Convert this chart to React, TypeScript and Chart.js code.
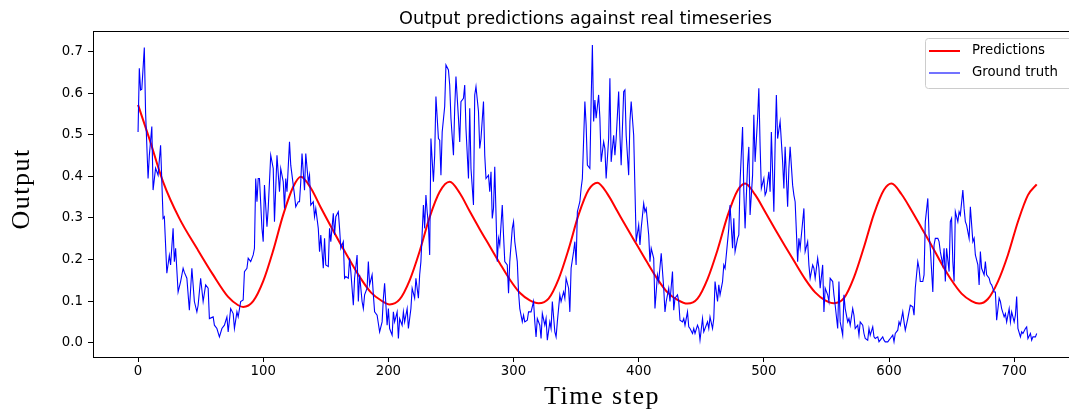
import React, { useEffect, useRef } from "react";
import { Chart, registerables } from "chart.js";

Chart.register(...registerables);

const chartTitle = "Output predictions against real timeseries";
const xAxisTitle = "Time step";
const yAxisTitle = "Output";
const seriesNames = ["Predictions", "Ground truth"];
const seriesColors = ["#ff0000", "#0000ff"];

const xTicks = [0, 100, 200, 300, 400, 500, 600, 700];
const yTicks = [0, 0.1, 0.2, 0.3, 0.4, 0.5, 0.6, 0.7];

const gtStep = [
  0, 1, 2, 3, 5, 6, 8, 9, 11, 12, 14, 16, 18, 20, 21, 23, 25, 26, 28, 29, 30, 32, 34, 36, 37, 39, 41, 43, 45, 47, 48, 50, 52, 54, 56, 57, 60, 61, 63, 65, 67, 69, 71, 72, 74, 76, 77, 79, 80, 82, 84, 85, 87, 88, 90, 92, 93, 94, 95, 96,
  97, 99, 100, 101, 103, 104, 106, 108, 109, 111, 113, 114, 116, 117, 118, 119, 121, 122, 124, 125, 126, 128, 129, 130, 131, 133, 134, 136, 137, 138, 140, 141, 142, 144, 145, 146, 148, 149, 150, 152, 153, 154, 156, 157, 158, 160, 161, 162, 164, 165, 166, 168, 169, 170, 172, 173, 175, 176, 177, 179, 180, 181, 183, 184, 185, 187, 188, 189, 191, 192, 193, 195, 196, 197, 199, 200,
  201, 203, 204, 205, 207, 208, 209, 211, 212, 213, 215, 216, 218, 219, 221, 222, 224, 225, 226, 228, 229, 230, 231, 232, 233, 234, 236, 237, 238, 240, 241, 242, 243, 245, 246, 248, 249, 250, 252, 253, 254, 256, 257, 258, 260, 261, 262, 264, 265, 266, 268, 269, 270, 272, 273, 274, 276, 277, 278, 280, 281, 282, 283, 284, 285, 287, 288, 289, 291, 292, 293, 295, 296, 297, 299, 300, 301, 303, 304,
  305, 307, 308, 309, 311, 312, 314, 316, 317, 318, 319, 321, 322, 323, 325, 326, 327, 329, 330, 331, 333, 334, 335, 337, 338, 340, 341, 342, 344, 345, 346, 348, 349, 350, 351, 353, 354, 355, 357, 358, 359, 361, 362, 363, 364, 365, 366, 368, 369, 370, 372, 373, 374, 376, 377, 378, 380, 381, 382, 384, 385, 386, 388, 389, 390, 392, 393, 394, 396, 397, 398, 400, 401, 402, 404, 405, 406, 408, 409,
  410, 412, 413, 415, 416, 418, 420, 421, 422, 424, 425, 427, 428, 429, 431, 432, 433, 435, 436, 437, 439, 440, 441, 443, 444, 445, 447, 448, 449, 451, 452, 453, 455, 456, 457, 459, 460, 461, 463, 464, 465, 467, 468, 469, 471, 472, 473, 475, 476, 477, 479, 480, 481, 483, 484, 485, 487, 488, 489, 491, 492, 493, 495, 496, 497, 498, 500, 501, 502, 504, 505, 506, 508, 509, 510, 511, 513,
  515, 516, 517, 519, 520, 521, 523, 524, 525, 527, 528, 529, 531, 532, 533, 535, 536, 537, 539, 540, 541, 543, 544, 545, 547, 548, 549, 551, 552, 553, 555, 556, 557, 559, 560, 561, 563, 564, 565, 567, 568, 569, 571, 572, 573, 575, 576, 577, 579, 580, 581, 583, 584, 585, 587, 588, 589, 591, 592, 593, 595, 596, 597, 599, 600, 601, 603, 604, 605, 607, 608, 609, 611, 612, 613, 615, 616, 617,
  619, 620, 621, 623, 624, 625, 627, 628, 629, 631, 632, 633, 635, 636, 637, 639, 640, 641, 643, 644, 645, 646, 648, 649, 650, 651, 652, 653, 655, 656, 657, 659, 660, 661, 662, 664, 665, 667, 668, 669, 671, 672, 673, 674, 676, 677, 678, 680, 681, 682, 684, 685, 686, 688, 689, 690, 692, 693, 694, 696, 697, 698, 700, 701, 702, 703, 705, 706, 707, 709, 710, 711, 713, 714, 715, 717, 718,
];

const gtValue = [
  0.507, 0.66, 0.608, 0.61, 0.71, 0.555, 0.395, 0.45, 0.52, 0.367, 0.42, 0.403, 0.475, 0.299, 0.303, 0.167, 0.21, 0.187, 0.275, 0.195, 0.227, 0.122, 0.147, 0.179, 0.169, 0.155, 0.078, 0.179, 0.099, 0.074, 0.09, 0.155, 0.099, 0.139, 0.131, 0.058, 0.062, 0.042, 0.034, 0.014, 0.034, 0.042, 0.062, 0.026, 0.082, 0.07, 0.034, 0.074, 0.062, 0.099, 0.103, 0.171, 0.179, 0.203, 0.195, 0.211, 0.227, 0.395, 0.339, 0.395,
  0.395, 0.275, 0.243, 0.379, 0.279, 0.323, 0.451, 0.419, 0.291, 0.451, 0.363, 0.419, 0.387, 0.323, 0.395, 0.363, 0.483, 0.427, 0.379, 0.355, 0.327, 0.339, 0.339, 0.387, 0.455, 0.367, 0.455, 0.387, 0.403, 0.331, 0.339, 0.303, 0.323, 0.275, 0.219, 0.259, 0.179, 0.251, 0.187, 0.183, 0.275, 0.243, 0.311, 0.259, 0.303, 0.315, 0.275, 0.227, 0.243, 0.155, 0.159, 0.155, 0.203, 0.171, 0.09, 0.155, 0.211, 0.099, 0.163, 0.099, 0.082, 0.115, 0.131, 0.195, 0.139, 0.163, 0.115, 0.074, 0.066, 0.046, 0.026, 0.05, 0.107, 0.143, 0.042, 0.082,
  0.034, 0.018, 0.074, 0.05, 0.074, 0.01, 0.058, 0.042, 0.074, 0.05, 0.082, 0.034, 0.082, 0.131, 0.107, 0.155, 0.107, 0.163, 0.195, 0.331, 0.275, 0.355, 0.315, 0.283, 0.211, 0.491, 0.387, 0.451, 0.592, 0.491, 0.487, 0.403, 0.507, 0.568, 0.668, 0.656, 0.62, 0.54, 0.451, 0.564, 0.64, 0.54, 0.483, 0.58, 0.588, 0.62, 0.515, 0.395, 0.564, 0.419, 0.331, 0.596, 0.616, 0.556, 0.467, 0.491, 0.58, 0.451, 0.395, 0.403, 0.363, 0.411, 0.299, 0.323, 0.423, 0.195, 0.251, 0.235, 0.331, 0.259, 0.195, 0.187, 0.119, 0.195, 0.275, 0.291, 0.243, 0.195, 0.122,
  0.082, 0.05, 0.066, 0.05, 0.054, 0.074, 0.074, 0.099, 0.05, 0.014, 0.058, 0.042, 0.01, 0.07, 0.042, 0.058, 0.006, 0.05, 0.034, 0.099, 0.026, 0.014, 0.05, 0.115, 0.099, 0.122, 0.107, 0.155, 0.131, 0.074, 0.179, 0.219, 0.243, 0.187, 0.315, 0.339, 0.371, 0.395, 0.58, 0.524, 0.427, 0.419, 0.58, 0.716, 0.532, 0.584, 0.54, 0.596, 0.54, 0.435, 0.483, 0.467, 0.395, 0.491, 0.636, 0.435, 0.499, 0.451, 0.491, 0.604, 0.499, 0.427, 0.604, 0.608, 0.499, 0.403, 0.532, 0.58, 0.499, 0.371, 0.243, 0.283, 0.235, 0.275, 0.335, 0.315, 0.323, 0.259, 0.195,
  0.227, 0.203, 0.082, 0.163, 0.147, 0.215, 0.131, 0.074, 0.099, 0.131, 0.099, 0.171, 0.078, 0.107, 0.115, 0.099, 0.054, 0.05, 0.058, 0.042, 0.074, 0.038, 0.034, 0.022, 0.034, 0.022, 0.042, 0.034, 0.006, 0.058, 0.026, 0.034, 0.05, 0.034, 0.062, 0.034, 0.058, 0.147, 0.099, 0.139, 0.115, 0.147, 0.187, 0.179, 0.243, 0.275, 0.331, 0.227, 0.299, 0.219, 0.251, 0.259, 0.387, 0.519, 0.363, 0.275, 0.427, 0.471, 0.307, 0.403, 0.548, 0.435, 0.54, 0.612, 0.475, 0.371, 0.395, 0.355, 0.363, 0.411, 0.363, 0.507, 0.315, 0.475, 0.596, 0.491, 0.532,
  0.435, 0.371, 0.471, 0.327, 0.419, 0.471, 0.379, 0.355, 0.339, 0.195, 0.251, 0.227, 0.291, 0.323, 0.219, 0.243, 0.187, 0.155, 0.187, 0.179, 0.155, 0.203, 0.179, 0.131, 0.187, 0.074, 0.131, 0.115, 0.099, 0.155, 0.147, 0.115, 0.09, 0.034, 0.147, 0.05, 0.018, 0.115, 0.082, 0.05, 0.058, 0.042, 0.082, 0.066, 0.034, 0.042, 0.018, 0.05, 0.042, 0.022, 0.01, 0.006, 0.034, 0.018, 0.038, 0.014, 0.01, 0.014, 0.002, 0.006, 0.014, 0.006, 0.002, 0.002, 0.006, 0.01, 0.018, 0.002, 0.022, 0.03, 0.05, 0.042, 0.074, 0.05, 0.03, 0.058, 0.074, 0.09,
  0.086, 0.066, 0.131, 0.195, 0.179, 0.147, 0.147, 0.163, 0.291, 0.347, 0.259, 0.227, 0.122, 0.235, 0.251, 0.251, 0.243, 0.219, 0.187, 0.227, 0.147, 0.227, 0.171, 0.291, 0.299, 0.195, 0.147, 0.315, 0.291, 0.315, 0.307, 0.367, 0.323, 0.291, 0.283, 0.251, 0.327, 0.243, 0.251, 0.211, 0.187, 0.139, 0.219, 0.179, 0.163, 0.195, 0.163, 0.155, 0.143, 0.139, 0.122, 0.122, 0.054, 0.107, 0.099, 0.082, 0.062, 0.07, 0.05, 0.082, 0.05, 0.074, 0.05, 0.066, 0.111, 0.034, 0.014, 0.026, 0.022, 0.034, 0.038, 0.01, 0.022, 0.006, 0.014, 0.014, 0.022,
];

const predStep = [
  0, 9, 20, 33, 47, 60, 72, 80, 84, 92, 100, 108, 116, 124, 130,
  138, 146, 154, 162, 170, 178, 186, 194, 201,
  209, 217, 225, 233, 241, 249, 257, 265, 273, 281, 289, 297, 305, 313, 320,
  328, 336, 344, 352, 360, 367, 375, 383, 391, 399, 407, 415, 423, 431, 439,
  447, 455, 463, 471, 479, 485, 493, 501, 509, 517, 525, 533, 541, 549, 556,
  564, 572, 580, 588, 596, 602, 610, 618, 626, 634, 642, 650, 658, 666, 672,
  679, 687, 695, 703, 711, 718,
];

const predValue = [
  0.572, 0.491, 0.387, 0.299, 0.227, 0.163, 0.11, 0.09, 0.086, 0.1, 0.148, 0.222, 0.308, 0.375, 0.399,
  0.372, 0.325, 0.28, 0.236, 0.194, 0.154, 0.121, 0.102, 0.092,
  0.104, 0.15, 0.22, 0.302, 0.363, 0.387, 0.36, 0.316, 0.273, 0.232, 0.191, 0.152, 0.12, 0.102, 0.095,
  0.106, 0.153, 0.225, 0.308, 0.368, 0.385, 0.358, 0.316, 0.274, 0.233, 0.192, 0.153, 0.121, 0.103, 0.094,
  0.106, 0.153, 0.223, 0.305, 0.366, 0.383, 0.356, 0.315, 0.273, 0.232, 0.192, 0.153, 0.121, 0.102, 0.095,
  0.107, 0.157, 0.23, 0.31, 0.368, 0.383, 0.357, 0.318, 0.276, 0.234, 0.19, 0.15, 0.118, 0.1, 0.094,
  0.105, 0.147, 0.211, 0.291, 0.355, 0.381,
];

const TICK_FONT = { family: "'DejaVu Sans'", size: 13.3 };
const LABEL_FONT = "26px 'Liberation Serif'";

const frameAndLegend = {
  id: "frameAndLegend",
  afterDatasetsDraw(chart: any) {
    const { ctx, chartArea } = chart;
    ctx.save();
    // axes frame
    ctx.strokeStyle = "#000";
    ctx.lineWidth = 1;
    ctx.strokeRect(
      Math.round(chartArea.left) + 0.5,
      Math.round(chartArea.top) + 0.5,
      Math.round(chartArea.right - chartArea.left),
      Math.round(chartArea.bottom - chartArea.top)
    );
    // title, centred over the axes
    const cx = (chartArea.left + chartArea.right) / 2;
    ctx.fillStyle = "#000";
    ctx.font = "17.7px 'DejaVu Sans'";
    ctx.textAlign = "center";
    ctx.textBaseline = "alphabetic";
    ctx.fillText(chartTitle, cx - 2.5, 23.5);
    // axis labels (serif, LaTeX-like)
    ctx.font = LABEL_FONT;
    (ctx as any).letterSpacing = "1.5px";
    ctx.fillText(xAxisTitle, cx + 14, 404);
    ctx.save();
    ctx.translate(29, (chartArea.top + chartArea.bottom) / 2 - 5);
    ctx.rotate(-Math.PI / 2);
    ctx.fillText(yAxisTitle, 0, 0);
    ctx.restore();
    (ctx as any).letterSpacing = "0px";
    // legend (upper right, inside axes)
    const bx = chartArea.right - 158;
    const by = chartArea.top + 7;
    const bw = 151;
    const bh = 50;
    ctx.beginPath();
    ctx.roundRect(bx + 0.5, by + 0.5, bw, bh, 3);
    ctx.fillStyle = "rgba(255,255,255,0.8)";
    ctx.fill();
    ctx.strokeStyle = "#cccccc";
    ctx.lineWidth = 1;
    ctx.stroke();
    const ds = chart.data.datasets;
    const rows = [by + 13, by + 35];
    ds.forEach((d: any, i: number) => {
      const y = rows[i];
      ctx.beginPath();
      ctx.strokeStyle = d.borderColor;
      ctx.lineWidth = d.borderWidth;
      ctx.moveTo(bx + 4, y);
      ctx.lineTo(bx + 35, y);
      ctx.stroke();
      ctx.fillStyle = "#000";
      ctx.font = `${TICK_FONT.size}px ${TICK_FONT.family}`;
      ctx.textBaseline = "middle";
      ctx.textAlign = "left";
      ctx.fillText(d.label, bx + 47, y);
    });
    ctx.restore();
  },
};

export default function App() {
  const canvasRef = useRef<HTMLCanvasElement | null>(null);

  useEffect(() => {
    const canvas = canvasRef.current;
    if (!canvas) return;
    const chart = new Chart(canvas, {
      type: "line",
      data: {
        datasets: [
          {
            label: seriesNames[0],
            data: predStep.map((x, i) => ({ x, y: predValue[i] })),
            borderColor: seriesColors[0],
            backgroundColor: seriesColors[0],
            borderWidth: 2,
            pointRadius: 0,
            cubicInterpolationMode: "monotone",
            order: 1,
          },
          {
            label: seriesNames[1],
            data: gtStep.map((x, i) => ({ x, y: gtValue[i] })),
            borderColor: seriesColors[1],
            backgroundColor: seriesColors[1],
            borderWidth: 1.1,
            pointRadius: 0,
            tension: 0,
            order: 0,
          },
        ],
      },
      options: {
        animation: false,
        responsive: false,
        maintainAspectRatio: false,
        layout: { padding: { left: 0, right: 17, top: 31, bottom: 0 } },
        plugins: {
          legend: { display: false },
          tooltip: { enabled: false },
          title: { display: false },
        },
        scales: {
          x: {
            type: "linear",
            min: -36,
            max: 755,
            afterBuildTicks: (scale: any) => {
              scale.ticks = xTicks.map((value) => ({ value }));
            },
            afterFit: (scale: any) => {
              scale.height = 53;
            },
            grid: {
              display: true,
              drawOnChartArea: false,
              drawTicks: true,
              tickLength: 5,
              tickColor: "#000",
              color: "#000",
            },
            border: { display: true, color: "#000", width: 1 },
            ticks: {
              color: "#000",
              font: TICK_FONT,
              padding: 2,
              maxRotation: 0,
              callback: (v: any) => String(v),
            },
          },
          y: {
            type: "linear",
            min: -0.0345,
            max: 0.7498,
            afterBuildTicks: (scale: any) => {
              scale.ticks = yTicks.map((value) => ({ value }));
            },
            afterFit: (scale: any) => {
              scale.width = 93;
            },
            grid: {
              display: true,
              drawOnChartArea: false,
              drawTicks: true,
              tickLength: 5,
              tickColor: "#000",
              color: "#000",
            },
            border: { display: true, color: "#000", width: 1 },
            ticks: {
              color: "#000",
              font: TICK_FONT,
              padding: 5,
              callback: (v: any) => Number(v).toFixed(1),
            },
          },
        },
      },
      plugins: [frameAndLegend],
    } as any);
    return () => chart.destroy();
  }, []);

  return (
    <div
      style={{
        position: "fixed",
        left: 0,
        top: 0,
        width: 1069,
        height: 410,
        overflow: "hidden",
        background: "#fff",
      }}
    >
      <canvas ref={canvasRef} width={1100} height={410} style={{ width: 1100, height: 410, display: "block" }} />
    </div>
  );
}
